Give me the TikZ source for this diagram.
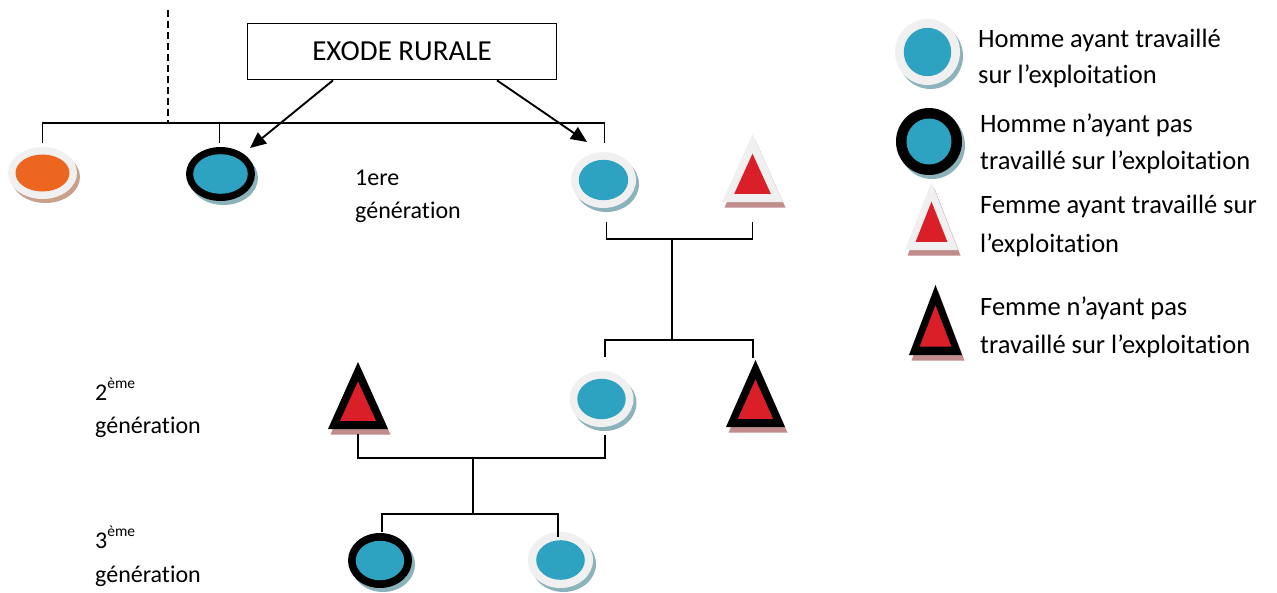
\documentclass[tikz,border=0pt]{standalone}
\usepackage{fontspec}
\setmainfont{Carlito}[Ligatures=NoCommon]
\usetikzlibrary{shapes.geometric,arrows.meta,calc}
\definecolor{tealc}{HTML}{2EA3C1}
\definecolor{orangec}{HTML}{EC6620}
\definecolor{redc}{HTML}{DA1F28}
\definecolor{ringc}{HTML}{F0F0F0}
\definecolor{cshadow}{HTML}{8CB2BC}
\definecolor{oshadow}{HTML}{C8A08C}
\definecolor{tshadow}{HTML}{C08C8C}
\tikzset{
  conn/.style={line width=1.9pt, black},
  arr/.style={conn, -{Triangle[length=16pt,width=14pt]}},
  gen/.style={anchor=base west, inner sep=0pt, font=\fontsize{24}{28}\selectfont},
  leg/.style={anchor=base west, inner sep=0pt, font=\fontsize{26.5}{30}\selectfont},
}
% circle symbol: name, x, y, rx, ry, ring thickness, ring colour, inner colour, shadow colour
\newcommand\mkcircle[9]{%
  \fill[#9] ({#2+3},{#3+4}) ellipse [x radius=#4, y radius=#5];
  \fill[#7] (#2,#3) ellipse [x radius=#4, y radius=#5];
  \fill[#8] (#2,#3) ellipse [x radius={#4-#6}, y radius={#5-#6}];
  \node[ellipse, minimum width={2*#4}, minimum height={2*#5}, inner sep=0pt, outer sep=0pt] (#1) at (#2,#3) {};
}
% triangle symbol: name, x, y (centre), width, height, ring colour
\newcommand\mktri[6]{%
  \fill[tshadow] ({#2-#4/2+2.5},{#3+#5/2+5.5}) -- ({#2+2.5},{#3-#5/2+5.5}) -- ({#2+#4/2+2.5},{#3+#5/2+5.5}) -- cycle;
  \fill[#6] ({#2-#4/2},{#3+#5/2}) -- (#2,{#3-#5/2}) -- ({#2+#4/2},{#3+#5/2}) -- cycle;
  \fill[redc] ({#2-0.3*#4},{#3+0.38*#5}) -- (#2,{#3-0.21*#5}) -- ({#2+0.3*#4},{#3+0.38*#5}) -- cycle;
  \node[rectangle, minimum width=#4, minimum height=#5, inner sep=0pt, outer sep=0pt] (#1) at (#2,#3) {};
}
\begin{document}
\begin{tikzpicture}[x=1pt,y=-1pt]
\useasboundingbox (0,0) rectangle (1277,592);

% title box
\node[draw, line width=1.7pt, minimum width=309, minimum height=56, inner sep=0pt,
      font=\fontsize{29}{32}\selectfont] (ex) at (402,51.5) {EXODE RURALE};

% first generation
\mkcircle{o1}{42.5}{173}{34.5}{26}{7.5}{ringc}{orangec}{oshadow}
\mkcircle{b1}{220.5}{174}{34.5}{27}{7.2}{black}{tealc}{cshadow}
\mkcircle{w1}{603.5}{180}{32.5}{28}{7.8}{ringc}{tealc}{cshadow}
\mktri{t1}{752.5}{168}{61}{68}{ringc}

% second generation
\mktri{t2l}{358}{395.5}{60}{67}{black}
\mkcircle{w2}{601.5}{399}{32}{28}{7.8}{ringc}{tealc}{cshadow}
\mktri{t2r}{755.5}{393.5}{59}{67}{black}

% third generation
\mkcircle{b3}{380}{560.5}{32}{27.5}{7.8}{black}{tealc}{cshadow}
\mkcircle{w3}{560.5}{560}{32.5}{28}{8.2}{ringc}{tealc}{cshadow}

% legend symbols
\mkcircle{lw}{927.5}{52}{32.5}{33}{8.8}{ringc}{tealc}{cshadow}
\mkcircle{lb}{929}{141.5}{33}{33.5}{10.5}{black}{tealc}{cshadow}
\mktri{ltw}{931.5}{216}{53}{68}{ringc}
\mktri{ltb}{935.5}{320}{53}{70}{black}

% connector end points
\coordinate (dtop) at (168,10);
\coordinate (j0) at (168,123);
\coordinate (j1) at (672,239);
\coordinate (j2) at (672,340);
\coordinate (j3) at (473,458);
\coordinate (j4) at (473,514);
\coordinate (o1t) at ([yshift=4pt]o1.north);
\coordinate (b1t) at ([xshift=-1pt,yshift=4pt]b1.north);
\coordinate (w1t) at ([xshift=1pt,yshift=9pt]w1.north);
\coordinate (w1b) at ([xshift=3pt,yshift=-14pt]w1.south);
\coordinate (t1b) at ([yshift=-20pt]t1.south);
\coordinate (w2t) at ([xshift=3.5pt,yshift=14pt]w2.north);
\coordinate (t2rt) at ([xshift=-2.5pt,yshift=2pt]t2r.north);
\coordinate (w2b) at ([xshift=3.5pt,yshift=-8pt]w2.south);
\coordinate (t2lb) at ([yshift=-5pt]t2l.south);
\coordinate (b3t) at ([xshift=2pt,yshift=1pt]b3.north);
\coordinate (w3t) at ([xshift=-2.5pt,yshift=-5pt]w3.north);
\coordinate (a1) at (250,148);
\coordinate (a2) at (587,142);

% connectors
\draw[conn, dash pattern=on 7pt off 4pt] (dtop) -- (j0);
\draw[conn] (o1t) -- (o1t |- j0) -- (w1t |- j0) -- (w1t);
\draw[conn] (b1t) -- (b1t |- j0);
\draw[conn] (w1b) -- (w1b |- j1) -- (t1b |- j1) -- (t1b);
\draw[conn] (j1) -- (j2);
\draw[conn] (w2t) -- (w2t |- j2) -- (t2rt |- j2) -- (t2rt);
\draw[conn] (w2b) -- (w2b |- j3) -- (t2lb |- j3) -- (t2lb);
\draw[conn] (j3) -- (j4);
\draw[conn] (b3t) -- (b3t |- j4) -- (w3t |- j4) -- (w3t);
\draw[arr] ([xshift=-69pt]ex.south) -- (a1);
\draw[arr] ([xshift=95pt]ex.south) -- (a2);

% generation labels
\node[gen] (g1a) at (355,185) {1ere};
\node[gen] (g1b) at (355,218) {génération};
\node[gen] (g2a) at (95,400) {2\raisebox{12pt}{\fontsize{15.5}{16}\selectfont ème}};
\node[gen] (g2b) at (95,433) {génération};
\node[gen] (g3a) at (95,548) {3\raisebox{12pt}{\fontsize{15.5}{16}\selectfont ème}};
\node[gen] (g3b) at (95,582) {génération};

% legend texts
\node[leg] (l1a) at (978,47) {Homme ayant travaillé};
\node[leg] (l1b) at (978,83) {sur l’exploitation};
\node[leg] (l2a) at (980,132) {Homme n’ayant pas};
\node[leg] (l2b) at (980,169) {travaillé sur l’exploitation};
\node[leg] (l3a) at (980,213) {Femme ayant travaillé sur};
\node[leg] (l3b) at (980,252) {l’exploitation};
\node[leg] (l4a) at (980,315) {Femme n’ayant pas};
\node[leg] (l4b) at (980,353) {travaillé sur l’exploitation};
\end{tikzpicture}
\end{document}
